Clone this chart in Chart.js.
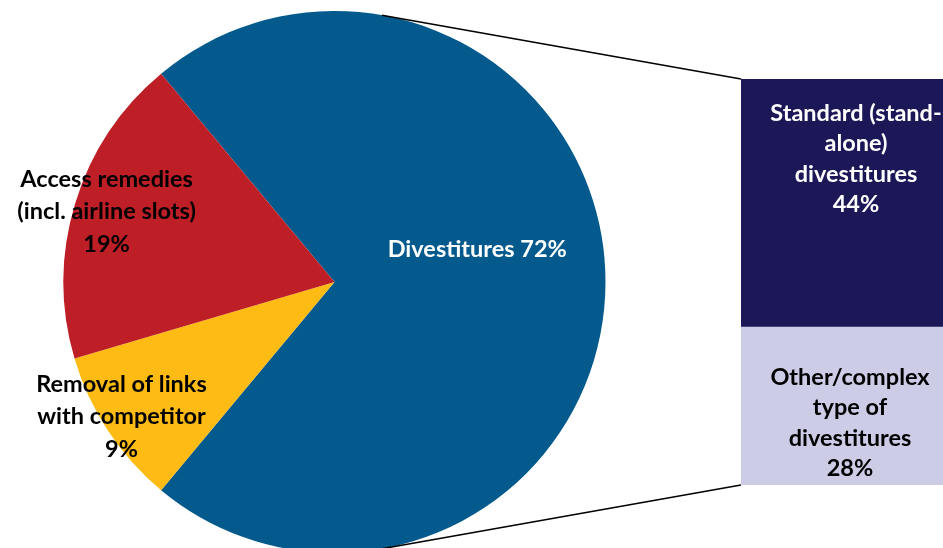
<!DOCTYPE html>
<html><head><meta charset="utf-8">
<script src="https://cdn.jsdelivr.net/npm/chart.js@4"></script>
<style>
html,body{margin:0;padding:0;width:943px;height:548px;overflow:hidden;background:#fff;}
#pieWrap{position:absolute;left:0;top:0;width:943px;height:564px;}
#barWrap{position:absolute;left:741px;top:79px;width:230px;height:406px;}
</style></head><body>
<div id="pieWrap"><canvas id="pie"></canvas></div>
<div id="barWrap"><canvas id="bar"></canvas></div>
<script>
// ---- data ----
const pieCategories = ["Divestitures", "Removal of links with competitor", "Access remedies (incl. airline slots)"];
const pieValues = [72.1, 9.4, 18.5];
const pieLabelLines = [["Divestitures 72%"], ["Removal of links", "with competitor", "9%"], ["Access remedies", "(incl. airline slots)", "19%"]];
const barCategories = ["Other/complex type of divestitures", "Standard (stand-alone) divestitures"];
const barValues = [28, 44];
const barLabelLines = [["Other/complex", "type of", "divestitures", "28%"], ["Standard (stand-", "alone)", "divestitures", "44%"]];

// ---- style ----
const pieColors = ["#045A8C", "#FDBB14", "#BE1E26"];
const pieTextColors = ["#ffffff", "#000000", "#000000"];
const pieLabelPos = [{dAngle: -12.7, rFrac: 0.54}, {dAngle: 1.0, rFrac: 0.93}, {dAngle: 0.2, rFrac: 0.88}];
const barColors = ["#CCCCE6", "#1C1858"];
const barTextColors = ["#000000", "#ffffff"];
const barLabelOffset = [{dx: -6, dy: 17}, {dx: 0, dy: -44}];
const FONT = "bold 23.5px Lato";
const PIE_LINE_H = 32.5;
const BAR_LINE_H = 30.5;

function drawBlock(ctx, lines, cx, cy, lh, color) {
  ctx.save();
  ctx.font = FONT;
  ctx.fillStyle = color;
  ctx.textAlign = "center";
  ctx.textBaseline = "middle";
  const n = lines.length;
  lines.forEach((t, k) => {
    ctx.fillText(t, cx, cy + (k - (n - 1) / 2) * lh);
  });
  ctx.restore();
}

const barTotal = barValues.reduce((a, b) => a + b, 0);
const barChart = new Chart(document.getElementById("bar"), {
  type: "bar",
  data: {
    labels: ["Divestitures"],
    datasets: barValues.map((v, i) => ({
      label: barCategories[i], data: [v], backgroundColor: barColors[i], borderWidth: 0
    }))
  },
  options: {
    responsive: true, maintainAspectRatio: false, animation: false, events: [],
    layout: {padding: 0},
    plugins: {legend: {display: false}, tooltip: {enabled: false}},
    datasets: {bar: {categoryPercentage: 1, barPercentage: 1}},
    scales: {
      x: {display: false, stacked: true},
      y: {display: false, stacked: true, min: 0, max: barTotal}
    }
  },
  plugins: [{
    id: "barLabels",
    afterDatasetsDraw(chart) {
      const ctx = chart.ctx;
      chart.data.datasets.forEach((ds, i) => {
        const el = chart.getDatasetMeta(i).data[0];
        const cy = (el.y + el.base) / 2;
        drawBlock(ctx, barLabelLines[i], el.x + barLabelOffset[i].dx, cy + barLabelOffset[i].dy, BAR_LINE_H, barTextColors[i]);
      });
    }
  }]
});

const pieTotal = pieValues.reduce((a, b) => a + b, 0);
const rotation = 90 - 0.5 * 360 * pieValues[0] / pieTotal;

new Chart(document.getElementById("pie"), {
  type: "pie",
  data: {
    labels: pieCategories,
    datasets: [{data: pieValues, backgroundColor: pieColors, borderWidth: 0, hoverOffset: 0, offset: 0}]
  },
  options: {
    responsive: true, maintainAspectRatio: false, animation: false, events: [],
    rotation: rotation,
    layout: {padding: {left: 63.5, top: 11, right: 943 - 605.5, bottom: 564 - 553}},
    plugins: {legend: {display: false}, tooltip: {enabled: false}}
  },
  plugins: [{
    id: "pieExtras",
    afterDatasetsDraw(chart) {
      const ctx = chart.ctx;
      const meta = chart.getDatasetMeta(0);
      let C = null, R = 0;
      meta.data.forEach((arc, i) => {
        const p = arc.getProps(["x", "y", "startAngle", "endAngle", "outerRadius"], true);
        C = {x: p.x, y: p.y}; R = p.outerRadius;
        const mid = (p.startAngle + p.endAngle) / 2 + pieLabelPos[i].dAngle * Math.PI / 180;
        const rr = p.outerRadius * pieLabelPos[i].rFrac;
        drawBlock(ctx, pieLabelLines[i], p.x + Math.cos(mid) * rr, p.y + Math.sin(mid) * rr, PIE_LINE_H, pieTextColors[i]);
      });
      // connector lines: tangents from bar corners to the pie
      const pr = chart.canvas.getBoundingClientRect();
      const br = barChart.canvas.getBoundingClientRect();
      const ox = br.left - pr.left, oy = br.top - pr.top;
      const topEl = barChart.getDatasetMeta(1).data[0];
      const botEl = barChart.getDatasetMeta(0).data[0];
      const corners = [
        {x: ox + topEl.x - topEl.width / 2, y: oy + topEl.y, sign: -1},
        {x: ox + botEl.x - botEl.width / 2, y: oy + botEl.base, sign: 1}
      ];
      ctx.save();
      ctx.strokeStyle = "#000";
      ctx.lineWidth = 1.6;
      corners.forEach(P => {
        const dx = P.x - C.x, dy = P.y - C.y;
        const d = Math.hypot(dx, dy);
        const th = Math.atan2(dy, dx) + P.sign * Math.acos(R / d);
        ctx.beginPath();
        ctx.moveTo(C.x + Math.cos(th) * R, C.y + Math.sin(th) * R);
        ctx.lineTo(P.x, P.y);
        ctx.stroke();
      });
      ctx.restore();
    }
  }]
});
</script>
</body></html>
